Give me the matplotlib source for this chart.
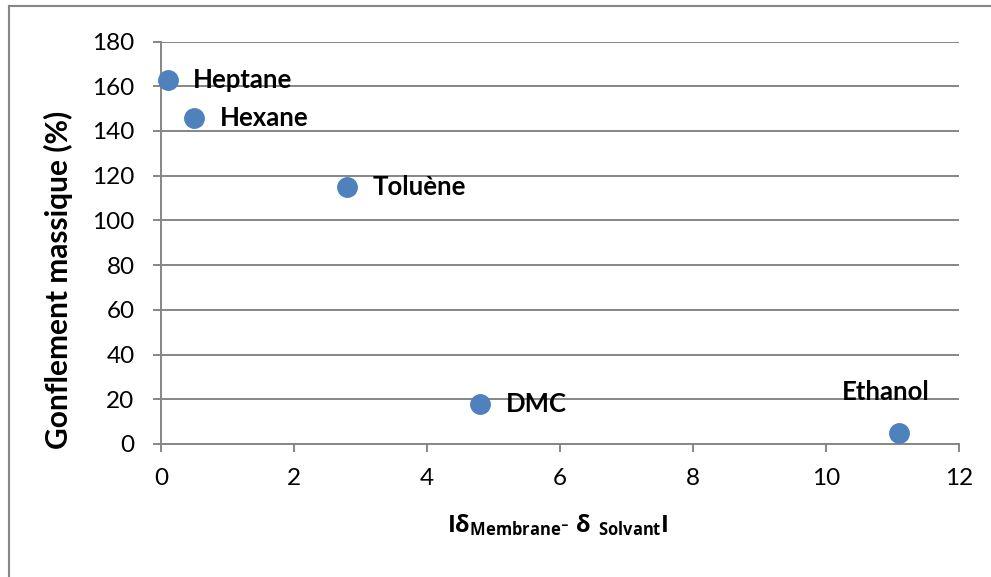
import matplotlib
matplotlib.use("Agg")
import matplotlib.pyplot as plt

# data
solvants = ["Heptane", "Hexane", "Toluène", "DMC", "Ethanol"]
delta_diff = [0.1, 0.5, 2.8, 4.8, 11.1]
gonflement = [163, 146, 115, 18, 5]
yticks = [0, 20, 40, 60, 80, 100, 120, 140, 160, 180]
xticks = [0, 2, 4, 6, 8, 10, 12]

plt.rcParams['font.family'] = ['Lato', 'DejaVu Sans']
plt.rcParams['mathtext.fontset'] = 'custom'
plt.rcParams['mathtext.bf'] = 'Open Sans:bold'
plt.rcParams['mathtext.rm'] = 'Open Sans'

grey = "#868686"
blue = "#4F81BD"

fig = plt.figure(figsize=(9.91, 5.77), dpi=100)
ax = fig.add_axes([161 / 991, 1 - 444 / 577, (959 - 161) / 991, (444 - 41.5) / 577])

ax.plot(delta_diff, gonflement, 'o', color=blue, markersize=14, zorder=3, clip_on=False)

offsets = {"Ethanol": (-10, 29.5)}
for name, x, y in zip(solvants, delta_diff, gonflement):
    dx, dy = offsets.get(name, (18.5, 0))
    ha = "center" if name == "Ethanol" else "left"
    ax.annotate(name, (x, y), xytext=(dx, dy), textcoords="offset points",
                ha=ha, va="center", fontsize=18.5, fontweight="bold")

ax.set_xlim(0, 12)
ax.set_ylim(0, 180)
ax.set_xticks(xticks)
ax.set_yticks(yticks)
ax.yaxis.grid(True, color=grey, linewidth=1.4)
ax.set_axisbelow(True)
for s in ["top", "right"]:
    ax.spines[s].set_visible(False)
for s in ["left", "bottom"]:
    ax.spines[s].set_color(grey)
    ax.spines[s].set_linewidth(1.4)
ax.tick_params(axis="both", direction="out", length=6, width=1.4, color=grey,
               labelsize=17.5)
ax.tick_params(axis="y", pad=13)
ax.tick_params(axis="x", pad=11)

fig.text(58 / 991, 1 - 280 / 577, "Gonflement massique (%)", rotation=90,
         ha="center", va="center", fontsize=21.5, fontweight="bold")
fig.text(558 / 991, 1 - 525 / 577,
         r"$\mathbf{I\delta_{Membrane}\text{-}\ \delta\ _{Solvant}I}$",
         ha="center", va="center", fontsize=17)

# outer chart frame (only left and top visible in the reference)
fig.add_artist(plt.Line2D([9 / 991, 9 / 991], [0, 1 - 6 / 577], transform=fig.transFigure,
                          color=grey, linewidth=1.5))
fig.add_artist(plt.Line2D([9 / 991, 1], [1 - 6 / 577, 1 - 6 / 577], transform=fig.transFigure,
                          color=grey, linewidth=1.5))

fig.savefig("out.png", dpi=100)
